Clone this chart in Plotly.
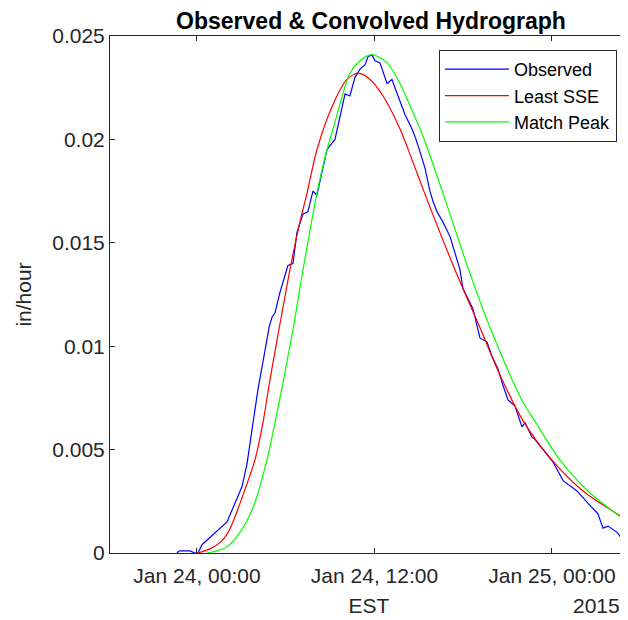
import pandas as pd
import plotly.graph_objects as go

BASE = pd.Timestamp("2015-01-24 00:00")

# hours relative to Jan 24, 00:00 (EST)
obs_hours = [-1.35, -1.2, -0.47, -0.14, 0.07, 0.34, 2.03, 3.04, 3.38, 3.72, 4.12, 4.6, 4.87,
             5.07, 5.27, 5.61, 6.15, 6.49, 6.76, 7.17, 7.5, 7.84, 8.11, 8.32, 8.79, 8.99,
             9.33, 10.01, 10.34, 10.68, 11.02, 11.36, 11.56, 11.83, 12.04, 12.37, 12.85,
             13.18, 13.59, 14.06, 14.54, 14.81, 15.08, 15.42, 15.75, 15.96, 16.23, 16.63,
             17.11, 17.44, 17.78, 17.98, 18.32, 18.66, 19.13, 19.61, 19.95, 20.35, 20.69,
             21.03, 21.5, 21.97, 22.18, 22.65, 22.85, 24.07, 24.75, 25.69, 26.44, 27.11,
             27.45, 27.79, 28.4, 28.81, 29.3]
obs_vals = [0, 0.0001, 0.0001, 0, 0, 0.0004, 0.0015, 0.0032, 0.0043, 0.006, 0.0079, 0.0098,
            0.0109, 0.0114, 0.0116, 0.0126, 0.0139, 0.014, 0.0155, 0.0164, 0.0165, 0.0175,
            0.0173, 0.018, 0.0195, 0.0197, 0.02, 0.0222, 0.0221, 0.023, 0.0234, 0.0236,
            0.024, 0.0241, 0.0238, 0.0237, 0.0227, 0.0229, 0.0221, 0.0212, 0.0205, 0.02,
            0.0194, 0.0186, 0.0175, 0.017, 0.0165, 0.016, 0.0153, 0.0145, 0.0137, 0.0128,
            0.0123, 0.0118, 0.0104, 0.0102, 0.0095, 0.0089, 0.0081, 0.0074, 0.0071, 0.0061,
            0.0063, 0.0056, 0.0055, 0.0044, 0.0035, 0.003, 0.0024, 0.0019, 0.0012, 0.0013,
            0.001, 0.0006, 0.0006]

sse_hours = [0.07, 0.88, 1.55, 2.03, 2.43, 3.11, 3.92, 4.46, 4.94, 5.54, 6.42, 6.96, 7.44,
             8.11, 9.2, 10.14, 10.89, 11.7, 12.58, 13.73, 14.6, 15.55, 17.44, 19.13, 20.49,
             22.04, 23.87, 26.1, 29.3]
sse_vals = [0, 0.0002, 0.0005, 0.0009, 0.0015, 0.0028, 0.0045, 0.0063, 0.0084, 0.0108,
            0.0142, 0.016, 0.0174, 0.0195, 0.0217, 0.0229, 0.0232, 0.0229, 0.0221, 0.0205,
            0.0189, 0.0171, 0.0137, 0.0109, 0.0086, 0.0064, 0.0046, 0.003, 0.0015]

peak_hours = [0.68, 1.35, 2.03, 2.91, 3.79, 4.73, 5.61, 6.49, 7.17, 8.11, 8.79, 9.2, 10.34,
              11.02, 11.83, 12.85, 13.73, 14.6, 15.21, 16.77, 18.32, 19.81, 21.97, 23.0,
              24.54, 26.57, 29.3]
peak_vals = [0, 0.0001, 0.0003, 0.001, 0.0022, 0.0045, 0.0075, 0.0108, 0.0137, 0.0174,
             0.0195, 0.0205, 0.0232, 0.0238, 0.0241, 0.0237, 0.0227, 0.0213, 0.0203, 0.0171,
             0.0138, 0.0109, 0.0074, 0.0062, 0.0045, 0.0029, 0.0014]

x_tick_hours = [0, 12, 24]
x_tick_text = ["Jan 24, 00:00", "Jan 24, 12:00", "Jan 25, 00:00"]
y_tick_vals = [0, 0.005, 0.01, 0.015, 0.02, 0.025]
y_tick_text = ["0", "0.005", "0.01", "0.015", "0.02", "0.025"]


def to_time(hours):
    return [BASE + pd.Timedelta(hours=h) for h in hours]


FONT = "Liberation Sans, Arial, Helvetica, sans-serif"
AX = "#262626"

fig = go.Figure()
fig.add_trace(go.Scatter(x=to_time(obs_hours), y=obs_vals, mode="lines", name="Observed",
                         line=dict(color="#0000ff", width=1.2)))
fig.add_trace(go.Scatter(x=to_time(sse_hours), y=sse_vals, mode="lines", name="Least SSE",
                         line=dict(color="#ff0000", width=1.2, shape="spline", smoothing=0.8)))
fig.add_trace(go.Scatter(x=to_time(peak_hours), y=peak_vals, mode="lines", name="Match Peak",
                         line=dict(color="#00ff00", width=1.2, shape="spline", smoothing=0.8)))

# page body has an 8px margin, so the figure is drawn 8px in from the top-left corner
fig.update_layout(
    width=620, height=612,
    margin=dict(l=102, r=0, t=28, b=67, autoexpand=False),
    paper_bgcolor="white", plot_bgcolor="white",
    font=dict(family=FONT, size=21, color=AX),
    title=dict(text="<b>Observed & Convolved Hydrograph</b>", x=0.5855, xanchor="center",
               y=0.9788, yanchor="middle", font=dict(family=FONT, size=23, color="black")),
    showlegend=True,
    legend=dict(x=0.635, y=0.973, xanchor="left", yanchor="top",
                bgcolor="white", bordercolor=AX, borderwidth=1,
                font=dict(family=FONT, size=18, color="black"),
                itemwidth=64, tracegroupgap=0),
    xaxis=dict(
        type="date",
        range=[BASE + pd.Timedelta(hours=-5.88), BASE + pd.Timedelta(hours=29.14)],
        tickvals=to_time(x_tick_hours), ticktext=x_tick_text,
        ticks="inside", ticklen=5, tickcolor=AX, tickwidth=1,
        showline=True, linecolor=AX, linewidth=1, mirror="ticks",
        showgrid=False, zeroline=False, ticklabelstandoff=4,
        title=dict(text="EST", standoff=12, font=dict(size=21, color=AX)),
        tickfont=dict(size=21, color=AX),
    ),
    yaxis=dict(
        range=[0, 0.025],
        tickvals=y_tick_vals, ticktext=y_tick_text,
        ticks="inside", ticklen=5, tickcolor=AX, tickwidth=1,
        showline=True, linecolor=AX, linewidth=1, mirror=False,
        showgrid=False, zeroline=False,
        title=dict(text="in/hour", standoff=14, font=dict(size=21, color=AX)),
        tickfont=dict(size=21, color=AX),
    ),
    annotations=[dict(text="2015", xref="paper", yref="paper", x=0.94, y=-0.1025,
                      xanchor="center", yanchor="middle", showarrow=False,
                      font=dict(family=FONT, size=21, color=AX))],
)

fig.write_html("out.html")
